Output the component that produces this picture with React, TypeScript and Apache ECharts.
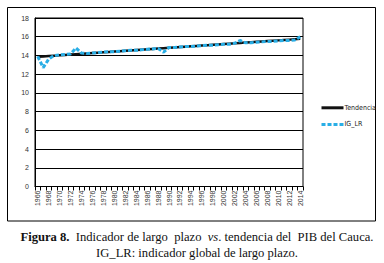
import React, { useEffect, useRef } from "react";
import * as echarts from "echarts";

const years: string[] = [];
for (let y = 1966; y <= 2014; y++) years.push(String(y));

const tendencia = [
  13.85, 13.89, 13.93, 13.97, 14.01, 14.05, 14.09, 14.13, 14.17, 14.21,
  14.25, 14.29, 14.33, 14.37, 14.41, 14.45, 14.49, 14.53, 14.57, 14.61,
  14.65, 14.69, 14.73, 14.77, 14.81, 14.85, 14.89, 14.93, 14.97, 15.01,
  15.05, 15.09, 15.13, 15.17, 15.21, 15.25, 15.29, 15.33, 15.37, 15.41,
  15.45, 15.49, 15.53, 15.57, 15.61, 15.65, 15.69, 15.73, 15.77,
];

const igLR = [
  13.9, 12.7, 13.6, 14.0, 14.05, 14.1, 14.15, 14.8, 14.25, 14.2,
  14.25, 14.3, 14.35, 14.4, 14.4, 14.45, 14.5, 14.55, 14.55, 14.6,
  14.65, 14.7, 14.75, 14.35, 14.85, 14.85, 14.9, 14.95, 14.95, 15.0,
  15.05, 15.1, 15.1, 15.15, 15.2, 15.2, 15.3, 15.6, 15.35, 15.35,
  15.4, 15.45, 15.5, 15.5, 15.55, 15.6, 15.6, 15.65, 16.0,
];

const yTicks = { min: 0, max: 18, interval: 2 };

export default function App() {
  const ref = useRef<HTMLDivElement>(null);
  useEffect(() => {
    if (!ref.current) return;
    const chart = echarts.init(ref.current, null, { renderer: "svg" });
    const sans = "'Liberation Sans', Arial, sans-serif";
    const serif = "'Liberation Serif', serif";
    chart.setOption({
      animation: false,
      backgroundColor: "#ffffff",
      grid: {
        left: 35,
        right: 81,
        top: 18,
        bottom: 76.5,
        show: true,
        borderColor: "#000",
        borderWidth: 1,
        backgroundColor: "transparent",
      },
      legend: {
        orient: "vertical",
        left: 315,
        top: 98,
        itemGap: 7,
        itemWidth: 22,
        itemHeight: 12,
        itemStyle: { opacity: 0 },
        lineStyle: { width: 3 },
        textStyle: { fontSize: 7, color: "#222", fontFamily: "'DejaVu Sans Condensed', sans-serif", padding: [0, 0, 0, -4] },
        data: ["Tendencia", "IG_LR"],
      },
      xAxis: {
        type: "category",
        data: years,
        boundaryGap: true,
        axisLine: { lineStyle: { color: "#000", width: 1 } },
        axisTick: { show: true, interval: 0, length: 4, lineStyle: { color: "#000" } },
        axisLabel: {
          interval: 1,
          rotate: 90,
          fontSize: 7,
          color: "#333",
          fontFamily: sans,
          margin: 4,
        },
        splitLine: { show: false },
      },
      yAxis: {
        type: "value",
        min: yTicks.min,
        max: yTicks.max,
        interval: yTicks.interval,
        axisLine: { show: true, lineStyle: { color: "#000", width: 1 } },
        axisTick: { show: false },
        axisLabel: { fontSize: 7, color: "#333", fontFamily: sans, margin: 6 },
        splitLine: { lineStyle: { color: "#000", width: 1 } },
      },
      series: [
        {
          name: "Tendencia",
          type: "line",
          data: tendencia,
          symbol: "none",
          itemStyle: { color: "#111" },
          lineStyle: { color: "#111", width: 2.5 },
        },
        {
          name: "IG_LR",
          type: "line",
          data: igLR,
          symbol: "none",
          itemStyle: { color: "#29aee6" },
          lineStyle: { color: "#29aee6", width: 3, type: [4, 2] },
        },
      ],
      graphic: [
        {
          type: "rect",
          shape: { x: 7.5, y: 7.5, width: 368, height: 213.5 },
          style: { fill: "none", stroke: "#000", lineWidth: 1 },
          silent: true,
        },
        {
          type: "text",
          x: 197,
          y: 237,
          style: {
            text: "{b|Figura 8.}  Indicador de largo  plazo  {i|vs}. tendencia del  PIB del Cauca.",
            font: `12.6px ${serif}`,
            fill: "#111",
            align: "center",
            verticalAlign: "middle",
            rich: {
              b: { fontWeight: "bold", fontSize: 12.6, fontFamily: serif, fill: "#111" },
              i: { fontStyle: "italic", fontSize: 12.6, fontFamily: serif, fill: "#111" },
            },
          },
        },
        {
          type: "text",
          x: 197,
          y: 253,
          style: {
            text: "IG_LR: indicador global de largo plazo.",
            font: `12.6px ${serif}`,
            fill: "#111",
            align: "center",
            verticalAlign: "middle",
          },
        },
      ],
    });
    return () => chart.dispose();
  }, []);
  return (
    <div
      ref={ref}
      style={{ width: 384, height: 263, position: "absolute", left: 0, top: 0 }}
    />
  );
}
